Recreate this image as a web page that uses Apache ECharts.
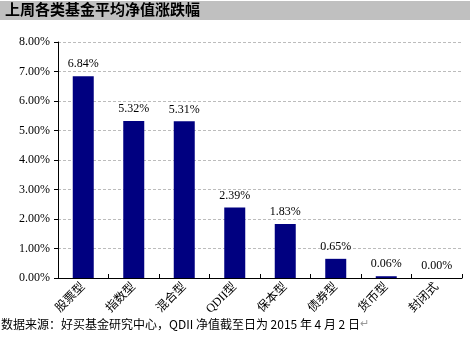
<!DOCTYPE html>
<html><head><meta charset="utf-8">
<script src="https://cdn.jsdelivr.net/npm/echarts@6/dist/echarts.min.js"></script>
<style>html,body{margin:0;padding:0;background:#fff}#c{width:470px;height:358px}</style>
</head><body><div id="c"></div>
<script>
const categories = ['股票型','指数型','混合型','QDII型','保本型','债券型','货币型','封闭式'];
const values = [6.84, 5.32, 5.31, 2.39, 1.83, 0.65, 0.06, 0.00];
const yTicks = [0, 1, 2, 3, 4, 5, 6, 7, 8];
const titleText = '上周各类基金平均净值涨跌幅';
const footText = '数据来源：好买基金研究中心，QDII 净值截至日为 2015 年 4 月 2 日';
const font = '"Liberation Serif", "Noto Sans CJK SC", serif';
const chart = echarts.init(document.getElementById('c'));
chart.setOption({
  animation: false,
  backgroundColor: '#fff',
  graphic: [
    {type:'rect', shape:{x:0,y:1,width:470,height:19}, style:{fill:'#c0c0c0'}},
    {type:'text', left:5, top:2, style:{text:titleText, font:'bold 15px "Noto Sans CJK SC", sans-serif', fill:'#000'}},
    {type:'text', left:1, top:318, style:{rich:{a:{font:'12px "Noto Sans CJK SC", "Liberation Serif", serif', fill:'#000'}, b:{font:'11px sans-serif', fill:'#999'}}, text:'{a|'+footText+'}{b|↵}'}}
  ],
  grid: {left:58, right:8, top:42, bottom:80, containLabel:false},
  xAxis: {
    type:'category', data:categories,
    axisLine:{lineStyle:{color:'#000', width:1}},
    axisTick:{show:true, inside:true, length:4, lineStyle:{color:'#000'}},
    axisLabel:{rotate:45, color:'#000', fontSize:12, fontFamily:font, margin:7, interval:0}
  },
  yAxis: {
    type:'value', min:0, max:8, interval:1,
    axisLine:{show:true, lineStyle:{color:'#000'}},
    axisTick:{show:true, length:4, lineStyle:{color:'#000'}},
    axisLabel:{color:'#000', fontSize:12, fontFamily:font, margin:8, formatter:v=>v.toFixed(2)+'%'},
    splitLine:{show:true, lineStyle:{color:'#bcbcbc', type:[3,2], width:1}}
  },
  series: [{
    type:'bar', data:values, barWidth:21,
    itemStyle:{color:'#000080'},
    label:{show:true, position:'top', distance:6, color:'#000', fontSize:12, fontFamily:font, formatter:p=>p.value.toFixed(2)+'%'}
  }]
});
</script></body></html>
